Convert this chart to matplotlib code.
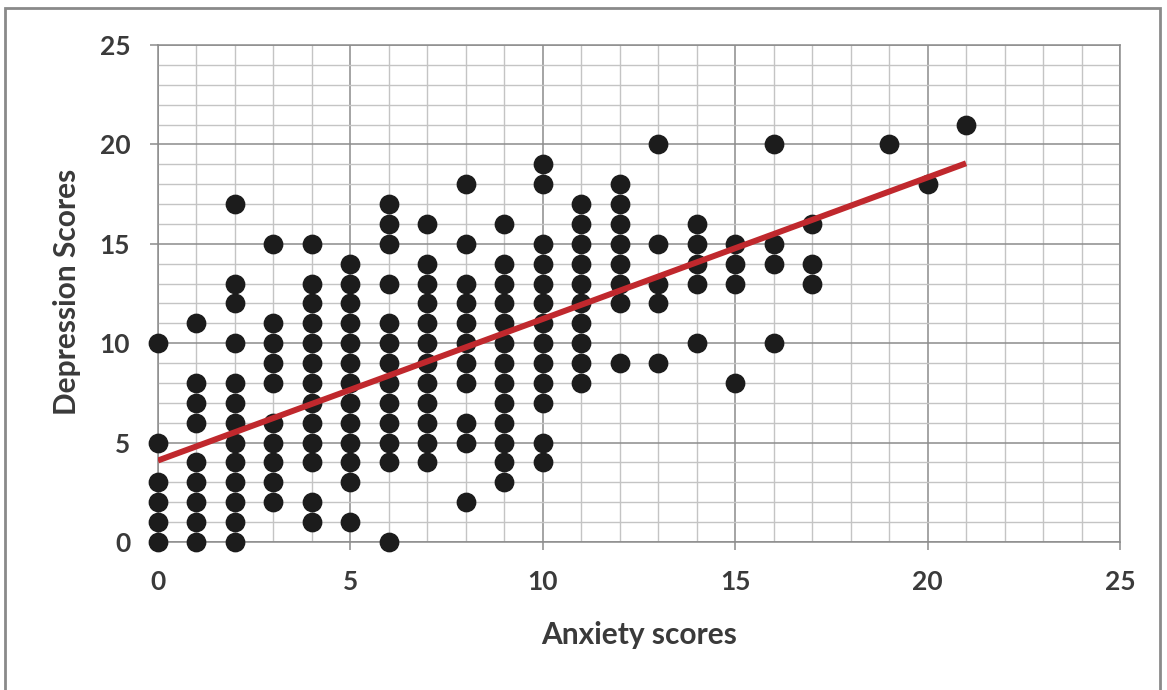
import matplotlib
matplotlib.use("Agg")
import matplotlib.pyplot as plt
from matplotlib.patches import Rectangle

# anxiety score -> depression scores observed at that anxiety score
anxiety_levels = [0, 1, 2, 3, 4, 5, 6, 7, 8, 9, 10, 11, 12, 13, 14, 15, 16, 17, 19, 20, 21]
depression_by_level = [
    [0, 1, 2, 3, 5, 10],
    [0, 1, 2, 3, 4, 6, 7, 8, 11],
    [0, 1, 2, 3, 4, 5, 6, 7, 8, 10, 12, 13, 17],
    [2, 3, 4, 5, 6, 8, 9, 10, 11, 15],
    [1, 2, 4, 5, 6, 7, 8, 9, 10, 11, 12, 13, 15],
    [1, 3, 4, 5, 6, 7, 8, 9, 10, 11, 12, 13, 14],
    [0, 4, 5, 6, 7, 8, 9, 10, 11, 13, 15, 16, 17],
    [4, 5, 6, 7, 8, 9, 10, 11, 12, 13, 14, 16],
    [2, 5, 6, 8, 9, 10, 11, 12, 13, 15, 18],
    [3, 4, 5, 6, 7, 8, 9, 10, 11, 12, 13, 14, 16],
    [4, 5, 7, 8, 9, 10, 11, 12, 13, 14, 15, 18, 19],
    [8, 9, 10, 11, 12, 13, 14, 15, 16, 17],
    [9, 12, 13, 14, 15, 16, 17, 18],
    [9, 12, 13, 15, 20],
    [10, 13, 14, 15, 16],
    [8, 13, 14, 15],
    [10, 14, 15, 20],
    [13, 14, 16],
    [20],
    [18],
    [21],
]

# trend line
trend_x = [0, 21]
trend_y = [4.1, 19.05]

xs = []
ys = []
for a, deps in zip(anxiety_levels, depression_by_level):
    for d in deps:
        xs.append(a)
        ys.append(d)

plt.rcParams['font.family'] = ['Lato', 'DejaVu Sans']
txt = '#3a3a3a'

fig = plt.figure(figsize=(11.67, 6.90), dpi=100)
ax = fig.add_axes([158/1167, 1 - 542/690, (1120-158)/1167, (542-45)/690])

ax.set_xlim(0, 25)
ax.set_ylim(0, 25)
ax.set_xticks(range(0, 26, 5))
ax.set_yticks(range(0, 26, 5))
ax.set_xticks(range(0, 26), minor=True)
ax.set_yticks(range(0, 26), minor=True)
ax.grid(which='minor', color='#c4c4c4', lw=1.0)
ax.grid(which='major', color='#8c8c8c', lw=1.1)
ax.set_axisbelow(True)
for s in ax.spines.values():
    s.set_color('#8c8c8c')
    s.set_linewidth(1.1)

ax.tick_params(which='minor', length=0)
ax.tick_params(which='major', length=6, width=1.1, color='#8c8c8c',
               labelsize=19, labelcolor=txt, pad=14)
for lab in ax.get_xticklabels() + ax.get_yticklabels():
    lab.set_fontweight('bold')

ax.scatter(xs, ys, s=175, color='#1c1c1c', zorder=3, clip_on=False)
ax.plot(trend_x, trend_y, color='#c0282d', lw=4.3, zorder=4, solid_capstyle='butt')

fig.text(639/1167, 1 - 635/690, 'Anxiety scores', ha='center', va='center',
         fontsize=21.5, fontweight='bold', color=txt)
fig.text(67/1167, 1 - 292/690, 'Depression Scores', ha='center', va='center',
         rotation=90, fontsize=21.5, fontweight='bold', color=txt)

fig.patches.append(Rectangle((5/1167, -0.05), (1160-5)/1167, 1.05 - 8/690,
                             transform=fig.transFigure, fill=False,
                             edgecolor='#8a8a8a', lw=2))

fig.savefig('out.png', dpi=100)
